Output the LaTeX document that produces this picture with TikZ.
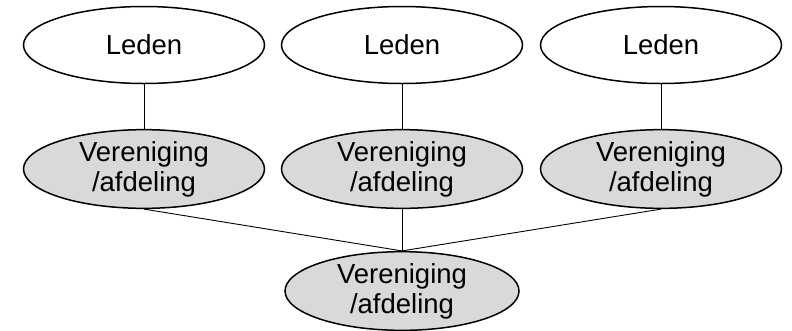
\documentclass[tikz,border=0pt]{standalone}
\usepackage{fontspec}
\setmainfont{Liberation Sans}
\usetikzlibrary{shapes.geometric}

\tikzset{
  lid/.style={ellipse,draw,line width=1.5pt,minimum width=241pt,minimum height=77pt,inner sep=0pt,
    align=center,font=\fontsize{27.5}{30}\selectfont},
  vereniging/.style={lid,fill=black!15,minimum height=78pt},
  verbinding/.style={line width=0.9pt}
}

\begin{document}
\begin{tikzpicture}[x=1pt,y=-1pt]
                        \useasboundingbox (0,0) rectangle (792,330);
                        \foreach \i/\xx in {1/144,2/402,3/661} {
                            \node[lid] (leden\i) at (\xx,45) {Leden};
                            \node[vereniging] (ver\i) at (\xx,169) {Vereniging\\/afdeling};
                            \draw[verbinding] (leden\i.south) -- (ver\i.north);
                        }
                        \node[vereniging,minimum width=234pt,minimum height=73pt] (bond) at (402,291) {Vereniging\\/afdeling};
                        \foreach \i in {1,2,3}
                            \draw[verbinding] (ver\i.south) -- (bond.north);
                    \end{tikzpicture}
\end{document}
